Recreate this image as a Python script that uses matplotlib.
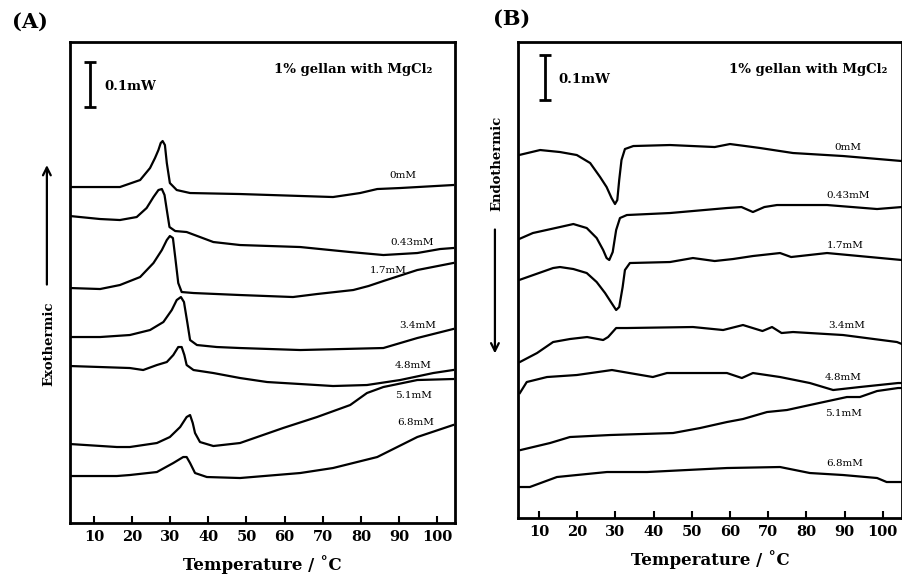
import matplotlib.pyplot as plt

# Curvas DSC (temperatura en C, senal en unidades arbitrarias)
# Panel A: enfriamiento (exotermico hacia arriba)
a_0_t = [3.7, 11.6, 16.8, 22.1, 24.7, 26.0, 26.9, 27.5, 28.0, 28.6, 29.1, 29.9, 31.7, 35.2, 48.3, 72.7, 79.8, 84.3, 90.3, 104.2]
a_0_y = [336, 336, 336, 343, 355, 365, 373, 380, 382, 378, 360, 340, 333, 330, 329, 326, 330, 334, 335, 338]

a_043_t = [3.7, 11.6, 16.8, 21.2, 23.8, 25.6, 26.9, 27.8, 28.5, 29.1, 29.8, 31.3, 34.3, 37.8, 41.3, 48.3, 64.1, 77.2, 85.9, 94.8, 100.8, 104.2]
a_043_y = [307, 304, 303, 306, 315, 326, 333, 334, 328, 313, 296, 292, 291, 286, 281, 278, 276, 271, 268, 270, 274, 275]

a_17_t = [3.7, 11.6, 16.8, 22.1, 25.6, 27.8, 29.1, 29.9, 30.7, 31.3, 32.1, 33.0, 36.1, 48.3, 62.2, 68.5, 78.0, 82.0, 85.9, 94.8, 104.2]
a_17_y = [235, 234, 238, 246, 260, 273, 283, 287, 285, 266, 240, 231, 230, 228, 226, 229, 233, 237, 242, 253, 260]

a_34_t = [3.7, 11.6, 19.4, 24.7, 28.2, 30.4, 31.7, 32.8, 33.6, 34.5, 35.2, 37.0, 42.2, 48.3, 64.1, 85.9, 94.8, 104.2]
a_34_y = [186, 186, 188, 193, 201, 213, 223, 226, 221, 200, 183, 178, 176, 175, 173, 175, 185, 194]

a_48_t = [3.7, 11.6, 19.4, 22.9, 26.5, 29.1, 30.8, 32.1, 33.0, 33.7, 34.3, 36.1, 41.3, 48.3, 55.4, 64.1, 72.7, 81.6, 90.3, 99.0, 104.2]
a_48_y = [157, 156, 155, 153, 158, 161, 168, 176, 176, 168, 158, 153, 150, 145, 141, 139, 137, 138, 143, 150, 153]

a_51_t = [3.7, 16.0, 19.4, 26.5, 29.9, 32.6, 34.3, 35.2, 35.9, 36.5, 37.8, 41.3, 48.3, 59.6, 68.5, 77.2, 81.6, 85.9, 94.8, 104.2]
a_51_y = [79, 76, 76, 80, 86, 96, 106, 108, 100, 90, 81, 77, 80, 95, 106, 118, 130, 136, 143, 144]

a_68_t = [3.7, 16.0, 19.4, 26.5, 30.8, 33.4, 34.3, 35.2, 36.5, 39.6, 48.3, 64.1, 72.7, 84.3, 94.8, 104.2]
a_68_y = [47, 47, 48, 51, 60, 66, 66, 60, 50, 46, 45, 50, 55, 66, 86, 98]

# Panel B: calentamiento (endotermico hacia abajo)
b_0_t = [4.8, 10.3, 15.5, 19.9, 23.4, 26.0, 27.7, 29.0, 29.9, 30.5, 31.0, 31.6, 32.5, 34.7, 44.3, 56.0, 60.0, 64.0, 67.9, 76.5, 89.6, 105]
b_0_y = [363, 368, 366, 363, 355, 341, 331, 320, 314, 318, 338, 358, 369, 372, 373, 371, 374, 372, 370, 365, 362, 357]

b_043_t = [4.8, 8.4, 15.5, 19.0, 22.5, 25.1, 26.8, 27.7, 28.4, 29.3, 30.2, 31.2, 33.0, 44.3, 59.2, 63.0, 66.0, 69.0, 72.3, 85.4, 98.5, 105]
b_043_y = [279, 285, 291, 294, 290, 280, 268, 260, 258, 266, 288, 300, 303, 305, 310, 311, 306, 311, 313, 313, 309, 311]

b_17_t = [4.8, 13.7, 15.5, 19.0, 22.5, 25.1, 27.3, 29.0, 30.2, 31.0, 31.9, 32.5, 33.8, 44.3, 50.3, 56.0, 60.8, 66.0, 73.1, 76.0, 85.4, 105]
b_17_y = [238, 250, 251, 249, 245, 236, 225, 215, 208, 211, 231, 248, 255, 256, 260, 257, 259, 262, 265, 261, 265, 258]

b_34_t = [5.0, 9.5, 13.7, 18.1, 22.6, 26.8, 28.1, 30.2, 33.0, 50.3, 58.2, 63.4, 68.5, 71.0, 73.5, 76.5, 89.6, 103.7, 105]
b_34_y = [156, 165, 176, 179, 181, 178, 181, 190, 190, 191, 188, 193, 187, 191, 185, 186, 183, 176, 174]

b_48_t = [5.0, 6.8, 12.1, 19.9, 29.1, 39.8, 43.5, 59.2, 63.1, 66.0, 73.1, 80.9, 87.0, 94.0, 104.0, 105]
b_48_y = [125, 136, 141, 143, 148, 141, 145, 145, 140, 145, 141, 135, 128, 131, 135, 135]

b_51_t = [5.2, 12.9, 18.1, 28.6, 45.1, 52.2, 59.2, 63.4, 69.7, 74.9, 80.9, 90.6, 94.0, 98.5, 104.0, 105]
b_51_y = [68, 75, 81, 83, 85, 90, 96, 99, 106, 108, 113, 121, 121, 127, 130, 130]

b_68_t = [5.0, 7.6, 14.7, 19.9, 27.8, 38.3, 48.7, 59.2, 73.1, 80.9, 89.6, 98.5, 101.0, 104.0, 105]
b_68_y = [31, 31, 41, 43, 46, 46, 48, 50, 51, 45, 43, 40, 36, 36, 36]

etiquetas = ["0mM", "0.43mM", "1.7mM", "3.4mM", "4.8mM", "5.1mM", "6.8mM"]
a_lab_t = [91.1, 93.5, 87.2, 94.8, 93.7, 93.7, 94.3]
a_lab_y = [348, 281, 253, 198, 158, 128, 101]
b_lab_t = [90.9, 90.9, 90.1, 90.6, 89.6, 89.6, 90.1]
b_lab_y = [371, 323, 273, 193, 141, 105, 55]

ticks_x = [10, 20, 30, 40, 50, 60, 70, 80, 90, 100]

plt.rcParams["font.family"] = "DejaVu Serif"
plt.rcParams["font.weight"] = "bold"


def dibujar_panel(ax, curvas, lab_t, lab_y, xlim, ylim, barra_t, barra_y, texto_t):
    for t, y in curvas:
        ax.plot(t, y, color="black", lw=1.6, solid_joinstyle="round")
    for txt, t, y in zip(etiquetas, lab_t, lab_y):
        ax.text(t, y, txt, fontsize=7.5, ha="center", va="center", fontweight="normal")
    ax.set_xlim(xlim)
    ax.set_ylim(ylim)
    ax.set_xticks(ticks_x)
    ax.set_yticks([])
    ax.tick_params(axis="x", direction="in", length=5, width=1.5, labelsize=10.5, pad=5)
    for s in ax.spines.values():
        s.set_linewidth(2)
    ax.set_xlabel("Temperature / ˚C", fontsize=12, fontweight="bold", labelpad=8)
    # barra de escala 0.1 mW
    ax.errorbar([barra_t], [barra_y], yerr=22.5, color="black", capsize=4, capthick=2, elinewidth=2)
    ax.text(barra_t + 3.6, barra_y - 2, "0.1mW", fontsize=9.5, va="center", ha="left")
    ax.text(texto_t, 0.942, "1% gellan with MgCl₂", transform=ax.transAxes,
            fontsize=9.5, ha="right", va="center")


fig = plt.figure(figsize=(9.03, 5.75), dpi=100)
ax_a = fig.add_axes([0.0775, 0.0904, 0.4264, 0.8365])
ax_b = fig.add_axes([0.5736, 0.0991, 0.4252, 0.8278])

curvas_a = [(a_0_t, a_0_y), (a_043_t, a_043_y), (a_17_t, a_17_y), (a_34_t, a_34_y),
            (a_48_t, a_48_y), (a_51_t, a_51_y), (a_68_t, a_68_y)]
curvas_b = [(b_0_t, b_0_y), (b_043_t, b_043_y), (b_17_t, b_17_y), (b_34_t, b_34_y),
            (b_48_t, b_48_y), (b_51_t, b_51_y), (b_68_t, b_68_y)]

dibujar_panel(ax_a, curvas_a, a_lab_t, a_lab_y, (3.7, 104.7), (0, 481), 9.0, 438.5, 0.94)
dibujar_panel(ax_b, curvas_b, b_lab_t, b_lab_y, (4.5, 105.0), (0, 476), 11.6, 440.5, 0.961)

# flechas exotermico / endotermico
ax_a.annotate("", xy=(-0.060, 0.750), xytext=(-0.060, 0.490), xycoords="axes fraction",
              arrowprops=dict(arrowstyle="->", lw=1.6, color="black", mutation_scale=14))
ax_a.text(-0.056, 0.372, "Exothermic", transform=ax_a.transAxes, rotation=90,
          fontsize=9.5, ha="center", va="center")
ax_b.annotate("", xy=(-0.060, 0.340), xytext=(-0.060, 0.612), xycoords="axes fraction",
              arrowprops=dict(arrowstyle="->", lw=1.6, color="black", mutation_scale=14))
ax_b.text(-0.056, 0.746, "Endothermic", transform=ax_b.transAxes, rotation=90,
          fontsize=9.5, ha="center", va="center")

fig.text(0.033, 0.962, "(A)", fontsize=15, fontweight="bold", ha="center", va="center")
fig.text(0.567, 0.967, "(B)", fontsize=15, fontweight="bold", ha="center", va="center")

fig.savefig("out.png", dpi=100)
